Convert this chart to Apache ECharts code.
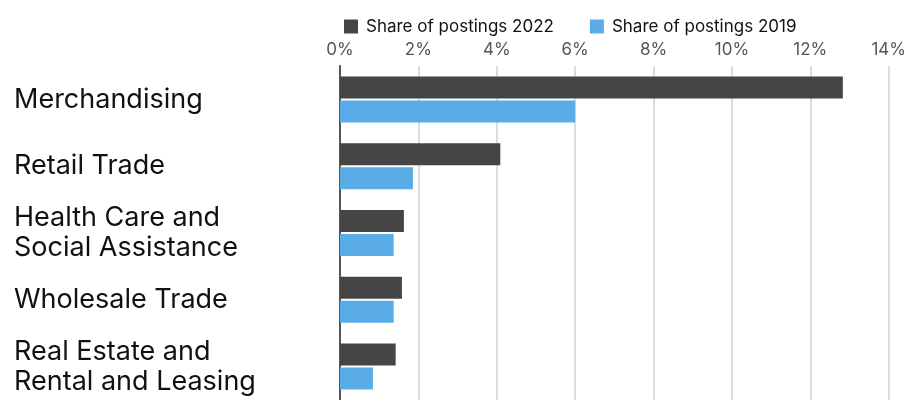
<!DOCTYPE html>
<html>
<head>
<meta charset="utf-8">
<script src="https://cdn.jsdelivr.net/npm/echarts@6/dist/echarts.min.js"></script>
<style>
  html, body { margin: 0; padding: 0; background: #fff; }
  #chart { width: 909px; height: 400px; }
</style>
</head>
<body>
<div id="chart"></div>
<script>
// Industries, top to bottom
const categories = [
  'Merchandising',
  'Retail Trade',
  'Health Care and\nSocial Assistance',
  'Wholesale Trade',
  'Real Estate and\nRental and Leasing'
];
// Share of job postings, in percent
const share2022 = [12.83, 4.09, 1.63, 1.58, 1.42];
const share2019 = [6.0, 1.86, 1.37, 1.37, 0.84];
const seriesNames = ['Share of postings 2022', 'Share of postings 2019'];

const FONT = 'Inter, "Noto Sans", sans-serif';

const chart = echarts.init(document.getElementById('chart'), null, { renderer: 'canvas' });

chart.setOption({
  animation: false,
  textStyle: { fontFamily: FONT },
  legend: {
    left: 339,
    top: 13,
    itemWidth: 14,
    itemHeight: 14,
    itemGap: 36,
    icon: 'rect',
    textStyle: { fontSize: 17, color: '#111', fontFamily: FONT, padding: [0, 0, 0, 3] },
    data: seriesNames
  },
  grid: { left: 340, right: 18, top: 66, bottom: 0, containLabel: false },
  xAxis: {
    type: 'value',
    position: 'top',
    min: 0,
    max: 14,
    interval: 2,
    axisLine: { show: false },
    axisTick: { show: false },
    axisLabel: {
      formatter: '{value}%',
      fontSize: 17,
      color: '#555',
      margin: 8,
      fontFamily: FONT
    },
    splitLine: { show: true, lineStyle: { color: '#dcdcdc', width: 2 } }
  },
  yAxis: {
    type: 'category',
    inverse: true,
    data: categories,
    axisLine: { show: true, lineStyle: { color: '#555', width: 2 } },
    axisTick: { show: false },
    axisLabel: {
      align: 'left',
      margin: 326,
      fontSize: 27,
      lineHeight: 30,
      color: '#111',
      fontFamily: FONT
    }
  },
  series: [
    {
      name: seriesNames[0],
      type: 'bar',
      data: share2022,
      barWidth: 22,
      barGap: '9%',
      itemStyle: { color: '#454545' }
    },
    {
      name: seriesNames[1],
      type: 'bar',
      data: share2019,
      barWidth: 22,
      barGap: '9%',
      itemStyle: { color: '#5aace6' }
    }
  ]
});
</script>
</body>
</html>
